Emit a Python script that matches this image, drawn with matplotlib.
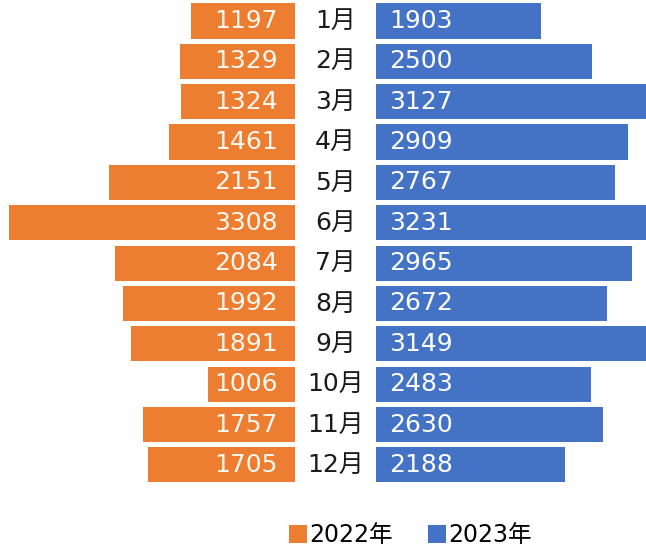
import numpy as np
import matplotlib.pyplot as plt

plt.rcParams['font.family'] = ['DejaVu Sans', 'Noto Sans CJK SC']

# Data
months = ["1月", "2月", "3月", "4月", "5月", "6月", "7月", "8月", "9月", "10月", "11月", "12月"]
y2022 = [1197, 1329, 1324, 1461, 2151, 3308, 2084, 1992, 1891, 1006, 1757, 1705]
y2023 = [1903, 2500, 3127, 2909, 2767, 3231, 2965, 2672, 3149, 2483, 2630, 2188]

orange = "#ED7D31"
blue = "#4472C4"
gap = 468  # half of the centre gap, in value units

fig = plt.figure(figsize=(6.46, 5.50), dpi=100)
ax = fig.add_axes([0, 0, 1, 1])

pos = np.arange(len(months))
b1 = ax.barh(pos, [-v for v in y2022], left=-gap, height=0.87, color=orange, label="2022年")
b2 = ax.barh(pos, y2023, left=gap, height=0.87, color=blue, label="2023年")

for i in pos:
    ax.text(-gap - 200, i, str(y2022[i]), ha="right", va="center", color="#FFF8F0", fontsize=18)
    ax.text(gap + 150, i, str(y2023[i]), ha="left", va="center", color="#FFFFFF", fontsize=18)
    ax.text(0, i, months[i], ha="center", va="center", color="#1a1a1a", fontsize=18)

ax.set_xlim(-3879, 3590)
ax.set_ylim(13.11, -0.52)
ax.axis("off")

leg = fig.legend(handles=[b1, b2], loc="center", bbox_to_anchor=(0.635, 0.027), ncol=2,
                 frameon=False, fontsize=17, handlelength=0.75, handleheight=0.75,
                 handletextpad=0.1, columnspacing=1.5)

fig.savefig("out.png", dpi=100)
